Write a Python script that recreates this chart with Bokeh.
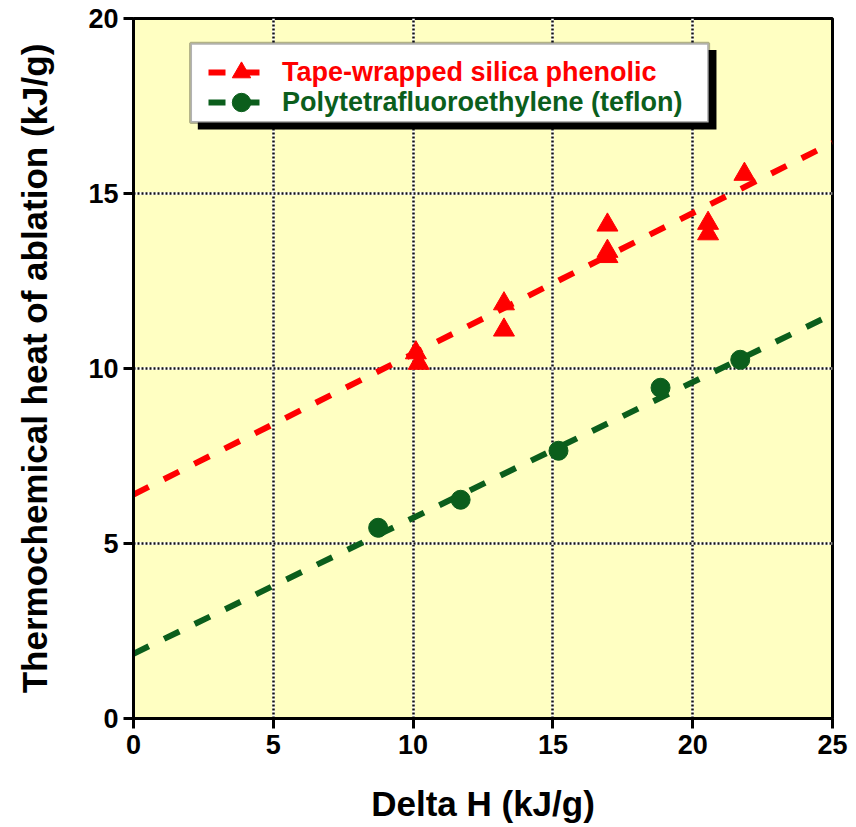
from bokeh.plotting import figure
from bokeh.models import Range1d, Legend, LegendItem, BoxAnnotation, Grid, FixedTicker
from bokeh.embed import file_html
from bokeh.resources import INLINE

# --- data ---
silica_x = [10.1, 10.2, 13.25, 13.25, 16.95, 16.95, 16.95, 20.55, 20.55, 21.85]
silica_y = [10.45, 10.15, 11.85, 11.1, 14.1, 13.35, 13.2, 14.15, 13.85, 15.55]
teflon_x = [8.75, 11.7, 15.2, 18.85, 21.7]
teflon_y = [5.45, 6.25, 7.65, 9.45, 10.25]
fit_x = [0, 25]
silica_fit = [6.4, 16.45]
teflon_fit = [1.85, 11.55]
x_ticks = [0, 5, 10, 15, 20, 25]
y_ticks = [0, 5, 10, 15, 20]

RED = "#FF0000"
GREEN = "#0B5E1C"
FONT = "Liberation Sans"

p = figure(frame_width=699, frame_height=700, output_backend="svg", toolbar_location=None,
           x_range=Range1d(0, 25), y_range=Range1d(0, 20),
           min_border_left=133, min_border_right=16, min_border_top=18, min_border_bottom=100)
p.background_fill_color = "#FFFFC2"
p.border_fill_color = "white"
p.outline_line_color = "black"
p.outline_line_width = 3

# grids: white underlay + black dotted
p.xgrid.visible = False
p.ygrid.visible = False
for dim in (0, 1):
    ticks = x_ticks if dim == 0 else y_ticks
    p.add_layout(Grid(dimension=dim, ticker=FixedTicker(ticks=ticks),
                      grid_line_color="white", grid_line_width=2.5))
    p.add_layout(Grid(dimension=dim, ticker=FixedTicker(ticks=ticks),
                      grid_line_color="#111111", grid_line_width=2.5, grid_line_dash="2 2"))

for ax in (p.xaxis[0], p.yaxis[0]):
    ax.axis_line_width = 3
    ax.axis_line_color = "black"
    ax.major_tick_line_width = 3
    ax.major_tick_out = 10
    ax.major_tick_in = 0
    ax.minor_tick_line_color = None
    ax.major_label_text_font = FONT
    ax.major_label_text_font_style = "bold"
    ax.major_label_text_font_size = "27px"
    ax.major_label_text_color = "black"
    ax.axis_label_text_font = FONT
    ax.axis_label_text_font_style = "bold"
    ax.axis_label_text_font_size = "35px"
    ax.axis_label_text_color = "black"

p.xaxis.ticker = FixedTicker(ticks=x_ticks)
p.yaxis.ticker = FixedTicker(ticks=y_ticks)
p.xaxis.axis_label = "Delta H (kJ/g)"
p.yaxis.axis_label = "Thermochemical heat of ablation (kJ/g)"
p.xaxis.major_label_standoff = 6
p.yaxis.major_label_standoff = 5
p.xaxis.axis_label_standoff = 27
p.yaxis.axis_label_standoff = 31

# fit lines and points
r_line = p.line(fit_x, silica_fit, line_color=RED, line_width=6, line_dash="17 17")
g_line = p.line(fit_x, teflon_fit, line_color=GREEN, line_width=6, line_dash="17 17")
r_pts = p.scatter(silica_x, silica_y, marker="triangle", size=21, fill_color=RED, line_color=RED)
g_pts = p.scatter(teflon_x, teflon_y, marker="circle", size=19, fill_color=GREEN, line_color=GREEN)

# legend box with shadow
shadow = BoxAnnotation(left=2.3, right=20.85, bottom=16.83, top=19.1,
                       fill_color="black", fill_alpha=1, line_color=None, level="overlay")
box = BoxAnnotation(left=2.04, right=20.57, bottom=17.03, top=19.29,
                    fill_color="white", fill_alpha=1, line_color="black", line_width=3, level="overlay")
p.add_layout(shadow)
p.add_layout(box)

def make_legend(label, renderers, color, y):
    lg = Legend(items=[LegendItem(label=label, renderers=renderers)], location=(75, y),
                background_fill_alpha=0, border_line_color=None, padding=0, margin=0,
                glyph_width=66, glyph_height=46, label_height=46, label_standoff=8,
                label_text_font=FONT, label_text_font_style="bold", label_text_font_size="27px",
                label_text_color=color, spacing=0)
    p.add_layout(lg, "center")

make_legend("Tape-wrapped silica phenolic", [r_line, r_pts], RED, 623)
make_legend("Polytetrafluoroethylene (teflon)", [g_line, g_pts], GREEN, 593)

open("out.html", "w").write(file_html(p, INLINE))
